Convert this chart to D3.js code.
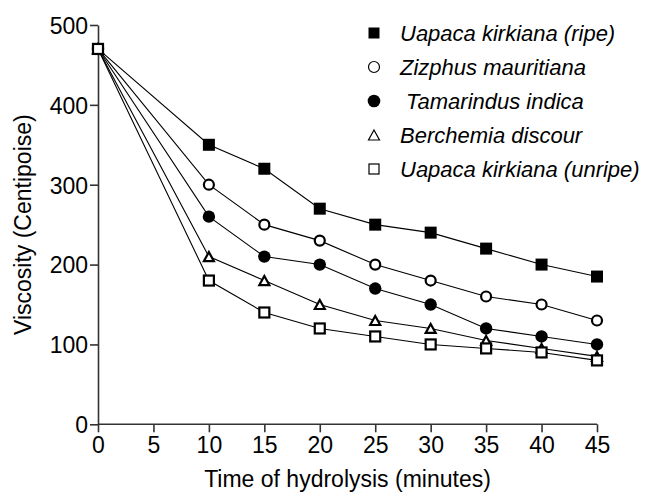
<!DOCTYPE html>
<html><head><meta charset="utf-8">
<script src="https://cdn.jsdelivr.net/npm/d3@7"></script>
<style>body{margin:0;background:#fff}svg{display:block}text{font-family:"Liberation Sans",Arial,sans-serif}</style>
</head><body><svg id="c" width="645" height="493"></svg>
<script>
const times = [0, 10, 15, 20, 25, 30, 35, 40, 45];
const seriesNames = ["Uapaca kirkiana (ripe)", "Zizphus mauritiana", " Tamarindus indica", "Berchemia discour", "Uapaca kirkiana (unripe)"];
const ripe = [470, 350, 320, 270, 250, 240, 220, 200, 185];
const zizphus = [470, 300, 250, 230, 200, 180, 160, 150, 130];
const tamarindus = [470, 260, 210, 200, 170, 150, 120, 110, 100];
const berchemia = [470, 210, 180, 150, 130, 120, 105, 95, 85];
const unripe = [470, 180, 140, 120, 110, 100, 95, 90, 80];
const xTicks = [0, 5, 10, 15, 20, 25, 30, 35, 40, 45];
const yTicks = [0, 100, 200, 300, 400, 500];
const markers = ["squareFilled", "circleOpen", "circleFilled", "triangleOpen", "squareOpen"];

const svg = d3.select("#c");
const x = d3.scaleLinear().domain([0, 45]).range([98, 597]);
const y = d3.scaleLinear().domain([0, 500]).range([424.3, 25]);
const FS = 23;

// axes
const xAxis = svg.append("g").attr("transform", `translate(0,${y(0)})`)
  .call(d3.axisBottom(x).tickValues(xTicks).tickSize(8).tickPadding(4).tickSizeOuter(0));
const yAxis = svg.append("g").attr("transform", `translate(${x(0)},0)`)
  .call(d3.axisLeft(y).tickValues(yTicks).tickSize(8).tickPadding(2).tickSizeOuter(0));
[xAxis, yAxis].forEach(a => {
  a.selectAll("path,line").attr("stroke", "#333").attr("stroke-width", 1.6);
  a.selectAll("text").attr("font-size", FS).attr("fill", "#000").attr("font-family", '"Liberation Sans",Arial,sans-serif');
});
xAxis.select("path").attr("d", `M${x(0)},0H${x(45)}`);
yAxis.selectAll("text").attr("dy", "0.36em");

svg.append("text").attr("x", (x(0) + x(45)) / 2).attr("y", 487).attr("text-anchor", "middle")
  .attr("font-size", FS).text("Time of hydrolysis (minutes)");
svg.append("text").attr("transform", `translate(31,${(y(0) + y(500)) / 2}) rotate(-90)`)
  .attr("text-anchor", "middle").attr("font-size", FS).text("Viscosity (Centipoise)");

const data = [ripe, zizphus, tamarindus, berchemia, unripe];
const line = d3.line().x((d, i) => x(times[i])).y(d => y(d));
data.forEach(s => {
  svg.append("path").attr("d", line(s)).attr("fill", "none").attr("stroke", "#000").attr("stroke-width", 1.1);
});

function drawMarker(g, type, cx, cy, big) {
  const sw = big ? 2.2 : 1.2;
  if (type === "squareFilled") {
    const s = big ? 12 : 11;
    g.append("rect").attr("x", cx - s / 2).attr("y", cy - s / 2).attr("width", s).attr("height", s).attr("fill", "#000");
  } else if (type === "squareOpen") {
    const s = 10;
    g.append("rect").attr("x", cx - s / 2).attr("y", cy - s / 2).attr("width", s).attr("height", s)
      .attr("fill", "#fff").attr("stroke", "#000").attr("stroke-width", sw);
  } else if (type === "circleOpen") {
    g.append("circle").attr("cx", cx).attr("cy", cy).attr("r", big ? 5 : 5.5)
      .attr("fill", "#fff").attr("stroke", "#000").attr("stroke-width", sw);
  } else if (type === "circleFilled") {
    g.append("circle").attr("cx", cx).attr("cy", cy).attr("r", big ? 6.2 : 6.3).attr("fill", "#000");
  } else if (type === "triangleOpen") {
    const w = big ? 5 : 5.5, h = big ? 4.5 : 5;
    g.append("path").attr("d", `M${cx},${cy - h}L${cx + w},${cy + h}L${cx - w},${cy + h}Z`)
      .attr("fill", "#fff").attr("stroke", "#000").attr("stroke-width", sw).attr("stroke-linejoin", "miter");
  }
}

const mg = svg.append("g");
data.forEach((s, k) => {
  s.forEach((v, i) => drawMarker(mg, markers[k], x(times[i]), y(v), true));
});

// legend
const lg = svg.append("g");
const legendY = d3.scalePoint().domain(seriesNames).range([33, 169]);
seriesNames.forEach((n, k) => {
  const ly = legendY(n);
  drawMarker(lg, markers[k], 374, ly, false);
  lg.append("text").attr("x", 400).attr("y", ly).attr("dy", "0.36em").attr("font-size", 22)
    .attr("font-style", "italic").attr("xml:space", "preserve").style("white-space", "pre").text(n);
});
</script></body></html>
